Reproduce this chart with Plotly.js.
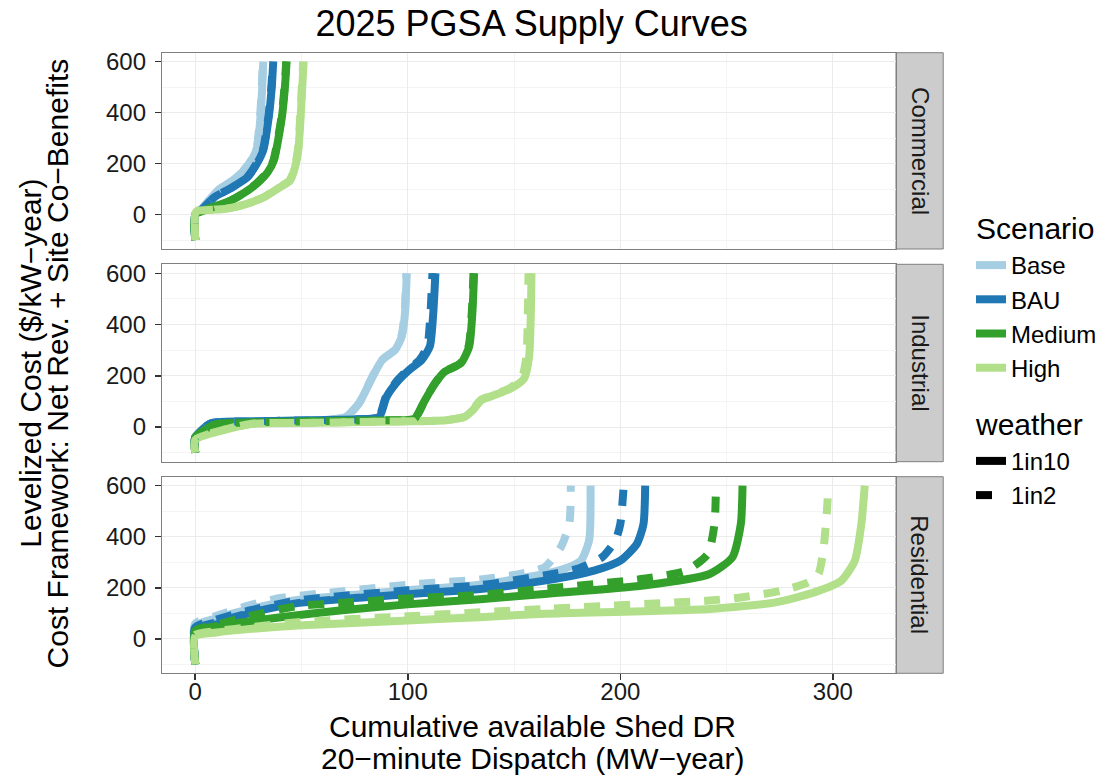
<!DOCTYPE html>
<html>
<head>
<meta charset="utf-8">
<script src="https://cdn.plot.ly/plotly-3.0.1.min.js"></script>
<style>html,body{margin:0;padding:0;background:#fff;}#chart{width:1105px;height:780px;}</style>
</head>
<body>
<div id="chart"></div>
<script>
// ---------------- data ----------------
const sectors = ['Commercial', 'Industrial', 'Residential'];
const scenarios = ['Base', 'BAU', 'Medium', 'High'];
const weathers = ['1in10', '1in2'];
const xTickVals = [0, 100, 200, 300];
const yTickVals = [0, 200, 400, 600];

// Commercial
const comBase10X = [0, 0, 3, 10.7, 17, 23, 27, 29.2, 30.7, 31.5, 32];
const comBase10Y = [-100, 0, 22, 95, 130, 174, 220, 266, 384, 500, 600];
const comBase2X = [0, 0, 3, 10.6, 16.9, 22.8, 26.8, 29, 30.5, 31.3, 31.8];
const comBase2Y = [-100, 0, 22, 95, 130, 174, 220, 266, 384, 500, 600];
const comBAU10X = [0, 0, 3, 9, 17, 24.6, 29, 32, 34.6, 36, 36.7];
const comBAU10Y = [-100, 0, 20, 68, 105, 147, 200, 253, 384, 500, 600];
const comBAU2X = [0, 0, 3, 9, 16.9, 24.4, 28.8, 31.8, 34.4, 35.8, 36.5];
const comBAU2Y = [-100, 0, 20, 68, 105, 147, 200, 253, 384, 500, 600];
const comMed10X = [0, 0, 5, 16.7, 23, 29, 34, 37, 40.8, 42.2, 43];
const comMed10Y = [-100, 0, 20, 55, 85, 122, 165, 213, 384, 500, 600];
const comMed2X = [0, 0, 5, 16.6, 22.9, 28.8, 33.8, 36.8, 40.6, 42, 42.8];
const comMed2Y = [-100, 0, 20, 55, 85, 122, 165, 213, 384, 500, 600];
const comHigh10X = [0, 0, 1, 8, 13.8, 19, 24.6, 32.3, 40, 44.6, 47, 48.5, 49.6, 51];
const comHigh10Y = [-100, 5, 15, 19, 22, 30, 43, 68, 108, 134, 187, 253, 384, 600];
const comHigh2X = [0, 0, 1, 8, 13.7, 18.9, 24.5, 32.1, 39.8, 44.4, 46.8, 48.3, 49.4, 50.8];
const comHigh2Y = [-100, 5, 15, 19, 22, 30, 43, 68, 108, 134, 187, 253, 384, 600];

// Industrial
const indBase10X = [0, 0, 7.5, 25, 50, 65, 71, 77, 83.4, 88, 94, 97.2, 98.7, 99.5];
const indBase10Y = [-100, -40, 15, 22, 26, 30, 40, 92, 196, 262, 301, 354, 446, 600];
const indBase2X = [0, 0, 7.5, 25, 50, 65, 71, 77, 83.3, 87.8, 93.8, 97, 98.5, 99.3];
const indBase2Y = [-100, -40, 15, 22, 26, 30, 40, 92, 196, 262, 301, 354, 446, 600];
const indBAU10X = [0, 0, 7.5, 25, 50, 75, 83, 86.7, 90, 95.7, 100.5, 106.6, 110.4, 112, 113];
const indBAU10Y = [-100, -40, 15, 22, 26, 30, 33, 41, 118, 183, 222, 262, 315, 447, 600];
const indBAU2X = [0, 0, 7.5, 25, 50, 75, 83, 86.5, 89.7, 95.2, 99.8, 105.6, 109.2, 110.7, 111.6];
const indBAU2Y = [-100, -40, 15, 22, 26, 30, 33, 41, 118, 183, 222, 262, 315, 447, 600];
const indMed10X = [0, 0, 9, 25, 50, 80, 100, 103.5, 108, 112.8, 117.4, 125, 128.9, 130.4, 131.2];
const indMed10Y = [-100, -40, 10, 18, 22, 26, 28, 35, 104, 170, 216, 249, 315, 447, 600];
const indMed2X = [0, 0, 9, 25, 50, 80, 100, 103.5, 108, 112.7, 117.2, 124.7, 128.6, 130.1, 130.9];
const indMed2Y = [-100, -40, 10, 18, 22, 26, 28, 35, 104, 170, 216, 249, 315, 447, 600];
const indHigh10X = [0, 0, 26, 50, 80, 110, 118, 126.7, 130.6, 134.6, 140.8, 148.6, 154.8, 157.1, 157.9, 158.2];
const indHigh10Y = [-100, -50, 12, 16, 20, 24, 27, 40, 66, 105, 125, 151, 190, 276, 447, 600];
const indHigh2X = [0, 0, 26, 50, 80, 110, 118, 126.5, 130.3, 134.2, 140.2, 147.8, 153.6, 155.8, 156.5, 156.8];
const indHigh2Y = [-100, -50, 12, 16, 20, 24, 27, 40, 66, 105, 125, 151, 190, 276, 447, 600];

// Residential
const resBase10X = [0, 0, 10, 25, 48, 100, 134, 164.3, 173.6, 181.4, 185.3, 186];
const resBase10Y = [-100, 50, 80, 115, 152, 190, 212, 254, 274, 306, 385, 600];
const resBase2X = [0, 0, 10, 25, 40, 60, 100, 134, 150, 164.3, 172, 176, 176.7];
const resBase2Y = [-100, 60, 90, 130, 160, 178, 212, 232, 250, 280, 359, 450, 600];
const resBAU10X = [0, 0, 10, 25, 48, 100, 134, 164.3, 187.6, 200, 207.8, 210.9, 211.7];
const resBAU10Y = [-100, 38, 65, 100, 140, 175, 195, 228, 267, 306, 372, 450, 600];
const resBAU2X = [0, 0, 10, 25, 48, 100, 134, 164.3, 179.8, 191.5, 197.7, 200, 201.6];
const resBAU2Y = [-100, 45, 75, 110, 150, 190, 210, 248, 274, 320, 385, 450, 600];
const resMed10X = [0, 0, 10, 25, 48, 68, 100, 134, 164.3, 210.9, 242, 252.8, 256.7, 257.5];
const resMed10Y = [-100, 28, 50, 68, 92, 111, 135, 155, 176, 209, 254, 320, 450, 600];
const resMed2X = [0, 0, 10, 25, 48, 68, 100, 134, 164.3, 210.9, 231, 241.2, 244.3, 245];
const resMed2Y = [-100, 32, 55, 88, 128, 140, 158, 172, 196, 235, 267, 333, 450, 600];
const resHigh10X = [0, 0, 10, 25, 48, 100, 134, 164.3, 242, 273, 291.6, 304, 310.3, 313.4, 315];
const resHigh10Y = [-100, 10, 25, 38, 52, 72, 85, 98, 117, 143, 183, 228, 306, 450, 600];
const resHigh2X = [0, 0, 10, 25, 48, 100, 134, 164.3, 242, 257.5, 276.1, 288.5, 293.2, 295.5, 297.1, 297.9];
const resHigh2Y = [-100, 15, 30, 45, 65, 88, 104, 117, 150, 163, 189, 222, 254, 346, 489, 600];

// ---------------- assembly ----------------
const series = {
  Commercial: {
    Base:   {'1in10': [comBase10X, comBase10Y], '1in2': [comBase2X, comBase2Y]},
    BAU:    {'1in10': [comBAU10X, comBAU10Y], '1in2': [comBAU2X, comBAU2Y]},
    Medium: {'1in10': [comMed10X, comMed10Y], '1in2': [comMed2X, comMed2Y]},
    High:   {'1in10': [comHigh10X, comHigh10Y], '1in2': [comHigh2X, comHigh2Y]}
  },
  Industrial: {
    Base:   {'1in10': [indBase10X, indBase10Y], '1in2': [indBase2X, indBase2Y]},
    BAU:    {'1in10': [indBAU10X, indBAU10Y], '1in2': [indBAU2X, indBAU2Y]},
    Medium: {'1in10': [indMed10X, indMed10Y], '1in2': [indMed2X, indMed2Y]},
    High:   {'1in10': [indHigh10X, indHigh10Y], '1in2': [indHigh2X, indHigh2Y]}
  },
  Residential: {
    Base:   {'1in10': [resBase10X, resBase10Y], '1in2': [resBase2X, resBase2Y]},
    BAU:    {'1in10': [resBAU10X, resBAU10Y], '1in2': [resBAU2X, resBAU2Y]},
    Medium: {'1in10': [resMed10X, resMed10Y], '1in2': [resMed2X, resMed2Y]},
    High:   {'1in10': [resHigh10X, resHigh10Y], '1in2': [resHigh2X, resHigh2Y]}
  }
};

const colors = {Base: '#A6CEE3', BAU: '#1F78B4', Medium: '#33A02C', High: '#B2DF8A'};
const dashes = {'1in10': 'solid', '1in2': '16px,14px'};
const axisFor = {Commercial: ['x3', 'y3'], Industrial: ['x2', 'y2'], Residential: ['x', 'y']};
const LW = 8;
const FONT = 'Liberation Sans, Arial, Helvetica, sans-serif';

const traces = [];
sectors.forEach(sec => {
  weathers.forEach(w => {
    scenarios.forEach(sc => {
      const d = series[sec][sc][w];
      traces.push({
        type: 'scatter', mode: 'lines', x: d[0], y: d[1],
        xaxis: axisFor[sec][0], yaxis: axisFor[sec][1],
        line: {color: colors[sc], width: LW, dash: dashes[w], shape: 'spline', smoothing: 0.6},
        showlegend: false, hoverinfo: 'skip'
      });
    });
  });
});
// legend entries
scenarios.forEach(sc => {
  traces.push({type: 'scatter', mode: 'lines', x: [null], y: [null],
    name: sc, legendgroup: 'Scenario',
    legendgrouptitle: {text: 'Scenario', font: {size: 30, color: '#000', family: FONT}},
    line: {color: colors[sc], width: LW}, showlegend: true});
});
weathers.forEach(w => {
  traces.push({type: 'scatter', mode: 'lines', x: [null], y: [null],
    name: w, legendgroup: 'weather',
    legendgrouptitle: {text: 'weather', font: {size: 30, color: '#000', family: FONT}},
    line: {color: '#000', width: LW, dash: dashes[w]}, showlegend: true});
});

const W = 1105, H = 780;
const xDom = [163.5 / W, 905 / W];
const yDoms = {
  Commercial: [1 - 249 / H, 1 - 52.7 / H],
  Industrial: [1 - 461.7 / H, 1 - 264.3 / H],
  Residential: [1 - 673.3 / H, 1 - 476.7 / H]
};

function xax(anchor, showLabels) {
  return {
    domain: xDom, anchor: anchor, range: [-15.7, 329.7],
    tickvals: xTickVals, ticktext: xTickVals.map(String),
    showticklabels: showLabels, ticks: showLabels ? 'outside' : '',
    ticklen: 6, tickwidth: 1.5, tickcolor: '#333',
    tickfont: {size: 24, color: '#1a1a1a', family: FONT},
    showgrid: true, gridcolor: '#EBEBEB', gridwidth: 1,
    minor: {tickvals: [50, 150, 250], showgrid: true, gridcolor: '#F4F4F4', gridwidth: 1, ticks: ''},
    showline: true, mirror: true, linecolor: '#7F7F7F', linewidth: 1,
    zeroline: false, fixedrange: true, ticklabelstandoff: -9
  };
}
function yax(anchor, dom) {
  return {
    domain: dom, anchor: anchor, range: [-135, 635],
    tickvals: yTickVals, ticktext: yTickVals.map(String),
    ticks: 'outside', ticklen: 6, tickwidth: 1.5, tickcolor: '#333',
    tickfont: {size: 24, color: '#1a1a1a', family: FONT},
    showgrid: true, gridcolor: '#EBEBEB', gridwidth: 1,
    minor: {tickvals: [-100, 100, 300, 500], showgrid: true, gridcolor: '#F4F4F4', gridwidth: 1, ticks: ''},
    showline: true, mirror: true, linecolor: '#7F7F7F', linewidth: 1,
    zeroline: false, fixedrange: true, ticklabelstandoff: 4
  };
}

const shapes = [];
const annotations = [];
sectors.forEach(sec => {
  const dom = yDoms[sec];
  shapes.push({type: 'rect', xref: 'paper', yref: 'paper',
    x0: 905 / W, x1: 952.7 / W, y0: dom[0], y1: dom[1],
    fillcolor: '#CCCCCC', line: {color: '#7F7F7F', width: 1}, layer: 'below'});
  annotations.push({xref: 'paper', yref: 'paper', x: 929 / W, y: (dom[0] + dom[1]) / 2,
    text: sec, textangle: 90, showarrow: false, xanchor: 'center', yanchor: 'middle',
    font: {size: 24, color: '#1a1a1a', family: FONT}});
});
annotations.push({xref: 'paper', yref: 'paper', x: 538 / W, y: 1 - 726 / H,
  text: 'Cumulative available Shed DR', showarrow: false, xanchor: 'center', yanchor: 'middle',
  font: {size: 30, color: '#000', family: FONT}});
annotations.push({xref: 'paper', yref: 'paper', x: 538 / W, y: 1 - 758 / H,
  text: '20\u2212minute Dispatch (MW\u2212year)', showarrow: false, xanchor: 'center', yanchor: 'middle',
  font: {size: 30, color: '#000', family: FONT}});
annotations.push({xref: 'paper', yref: 'paper', x: 30 / W, y: 1 - 363 / H,
  text: 'Levelized Cost ($/kW\u2212year)', textangle: -90, showarrow: false, xanchor: 'center', yanchor: 'middle',
  font: {size: 30, color: '#000', family: FONT}});
annotations.push({xref: 'paper', yref: 'paper', x: 58 / W, y: 1 - 363 / H,
  text: 'Cost Framework: Net Rev. + Site Co\u2212Benefits', textangle: -90, showarrow: false, xanchor: 'center', yanchor: 'middle',
  font: {size: 30, color: '#000', family: FONT}});

const layout = {
  width: W, height: H,
  margin: {l: 0, r: 0, t: 0, b: 0, pad: 0},
  paper_bgcolor: '#fff', plot_bgcolor: '#fff',
  font: {family: FONT, color: '#000'},
  title: {text: '2025 PGSA Supply Curves', font: {size: 36, color: '#000', family: FONT},
    xref: 'paper', x: 537 / W, xanchor: 'center', yref: 'container', y: 1 - 23 / H, yanchor: 'middle'},
  xaxis: xax('y', true),
  xaxis2: Object.assign(xax('y2', false), {matches: 'x'}),
  xaxis3: Object.assign(xax('y3', false), {matches: 'x'}),
  yaxis: yax('x', yDoms.Residential),
  yaxis2: yax('x2', yDoms.Industrial),
  yaxis3: yax('x3', yDoms.Commercial),
  showlegend: true,
  legend: {x: 981 / W, xanchor: 'left', y: 1 - 201 / H, yanchor: 'top',
    traceorder: 'grouped', tracegroupgap: 17, bgcolor: 'rgba(0,0,0,0)', borderwidth: 0,
    font: {size: 24, color: '#000', family: FONT}, itemclick: false, itemdoubleclick: false},
  shapes: shapes,
  annotations: annotations
};

Plotly.newPlot('chart', traces, layout, {displayModeBar: false, staticPlot: true});
</script>
</body>
</html>
